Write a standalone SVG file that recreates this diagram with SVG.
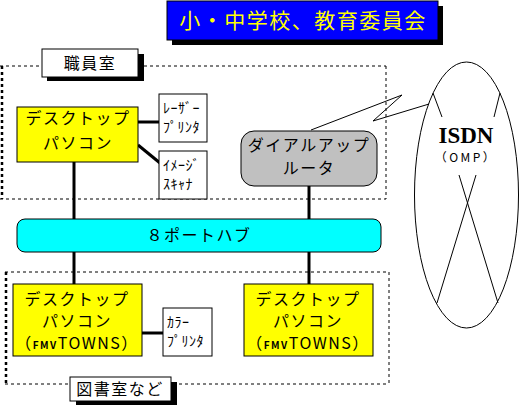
<svg xmlns="http://www.w3.org/2000/svg" width="520" height="406" viewBox="0 0 520 406">
<style>
.jp{font-family:"Noto Sans CJK JP","Noto Sans",sans-serif;fill:#000}
.m{font-size:16px;text-anchor:middle;letter-spacing:1.5px}
.s{font-size:14px;letter-spacing:0.5px}
.box{stroke:#000;stroke-width:1}
.dot{fill:none;stroke:#000;stroke-width:1;stroke-dasharray:3 3}
.dotl{fill:none;stroke:#000;stroke-width:2.5;stroke-dasharray:3 3}
.w{stroke:#000;stroke-width:3;fill:none}
.t{stroke:#000;stroke-width:1;fill:none}
</style>
<rect width="520" height="406" fill="#fff"/>
<g id="title">
<rect x="172" y="6" width="271" height="39" fill="#000"/>
<rect x="167" y="1" width="271" height="39" fill="#0000FF" class="box"/>
<text x="303" y="28" class="jp" style="font-size:21px;text-anchor:middle;letter-spacing:1.5px;fill:#FFFF00">小・中学校、教育委員会</text>
</g>
<g id="room1">
<line x1="0" y1="66" x2="386" y2="66" class="dot"/>
<line x1="0" y1="199" x2="386" y2="199" class="dot"/>
<line x1="386" y1="66" x2="386" y2="199" class="dot"/>
<line x1="2" y1="66" x2="2" y2="199" class="dotl"/>
</g>
<g id="room2">
<line x1="5" y1="272" x2="389" y2="272" class="dot"/>
<line x1="5" y1="384" x2="389" y2="384" class="dot"/>
<line x1="389" y1="272" x2="389" y2="384" class="dot"/>
<line x1="6" y1="272" x2="6" y2="384" class="dotl"/>
</g>
<g id="label1">
<rect x="47" y="54" width="97" height="27" fill="#000"/>
<rect x="42" y="49" width="96" height="28" fill="#fff" class="box"/>
<text x="90" y="69" class="jp m">職員室</text>
</g>
<g id="label2">
<rect x="76" y="382" width="101" height="23" fill="#000"/>
<rect x="70" y="377" width="101" height="24" fill="#fff" class="box"/>
<text x="120" y="395" class="jp m">図書室など</text>
</g>
<g id="connectors">
<line x1="74" y1="162" x2="74" y2="219" class="w"/>
<line x1="309" y1="186" x2="309" y2="219" class="w"/>
<line x1="74" y1="252" x2="74" y2="284" class="w"/>
<line x1="309" y1="252" x2="309" y2="284" class="w"/>
<line x1="138" y1="122" x2="159" y2="122" class="w"/>
<line x1="138" y1="145" x2="160" y2="163" class="w"/>
<line x1="142" y1="333" x2="163" y2="333" class="w"/>
<polyline points="311,130 402,95 373,121 429,104" class="t"/>
</g>
<g id="pc1">
<rect x="17" y="107" width="121" height="55" fill="#FFFF00" class="box"/>
<text x="78" y="124" class="jp m">デスクトップ</text>
<text x="78" y="149" class="jp m">パソコン</text>
</g>
<g id="laser">
<rect x="159" y="94" width="48" height="48" fill="#fff" class="box"/>
<text x="163" y="113" class="jp s">ﾚｰｻﾞｰ</text>
<text x="163" y="132" class="jp s">ﾌﾟﾘﾝﾀ</text>
</g>
<g id="scanner">
<rect x="159" y="151" width="48" height="48" fill="#fff" class="box"/>
<text x="163" y="170" class="jp s">ｲﾒｰｼﾞ</text>
<text x="163" y="189" class="jp s">ｽｷｬﾅ</text>
</g>
<g id="router">
<rect x="241" y="131" width="136" height="55" rx="13" fill="#C0C0C0" class="box"/>
<text x="309" y="151" class="jp m">ダイアルアップ</text>
<text x="309" y="174" class="jp m">ルータ</text>
</g>
<g id="hub">
<rect x="17" y="219" width="364" height="33" rx="8" fill="#00FFFF" class="box"/>
<text x="199" y="241" class="jp m">８ポートハブ</text>
</g>
<g id="pc2">
<rect x="13" y="284" width="129" height="72" fill="#FFFF00" class="box"/>
<text x="77" y="305" class="jp m">デスクトップ</text>
<text x="77" y="327" class="jp m">パソコン</text>
<text x="77" y="349" class="jp m">（<tspan style="font-size:10px;font-weight:bold">FMV</tspan>TOWNS）</text>
</g>
<g id="pc3">
<rect x="244" y="284" width="129" height="72" fill="#FFFF00" class="box"/>
<text x="308" y="305" class="jp m">デスクトップ</text>
<text x="308" y="327" class="jp m">パソコン</text>
<text x="308" y="349" class="jp m">（<tspan style="font-size:10px;font-weight:bold">FMV</tspan>TOWNS）</text>
</g>
<g id="colorprinter">
<rect x="163" y="308" width="49" height="48" fill="#fff" class="box"/>
<text x="167" y="327" class="jp s">ｶﾗｰ</text>
<text x="167" y="346" class="jp s">ﾌﾟﾘﾝﾀ</text>
</g>
<g id="isdn">
<ellipse cx="466.5" cy="195" rx="52" ry="133" fill="none" stroke="#000" stroke-width="1"/>
<line x1="433" y1="93" x2="442" y2="117" class="t"/>
<line x1="500" y1="93" x2="494" y2="117" class="t"/>
<line x1="459" y1="175" x2="498" y2="303" class="t"/>
<line x1="476" y1="175" x2="437" y2="303" class="t"/>
<text x="466" y="143" style="font-family:'Liberation Serif',serif;font-weight:bold;font-size:23px;text-anchor:middle">ISDN</text>
<text x="466" y="162" class="jp" style="font-size:12px;text-anchor:middle;letter-spacing:2.5px">（OMP）</text>
</g>
</svg>
